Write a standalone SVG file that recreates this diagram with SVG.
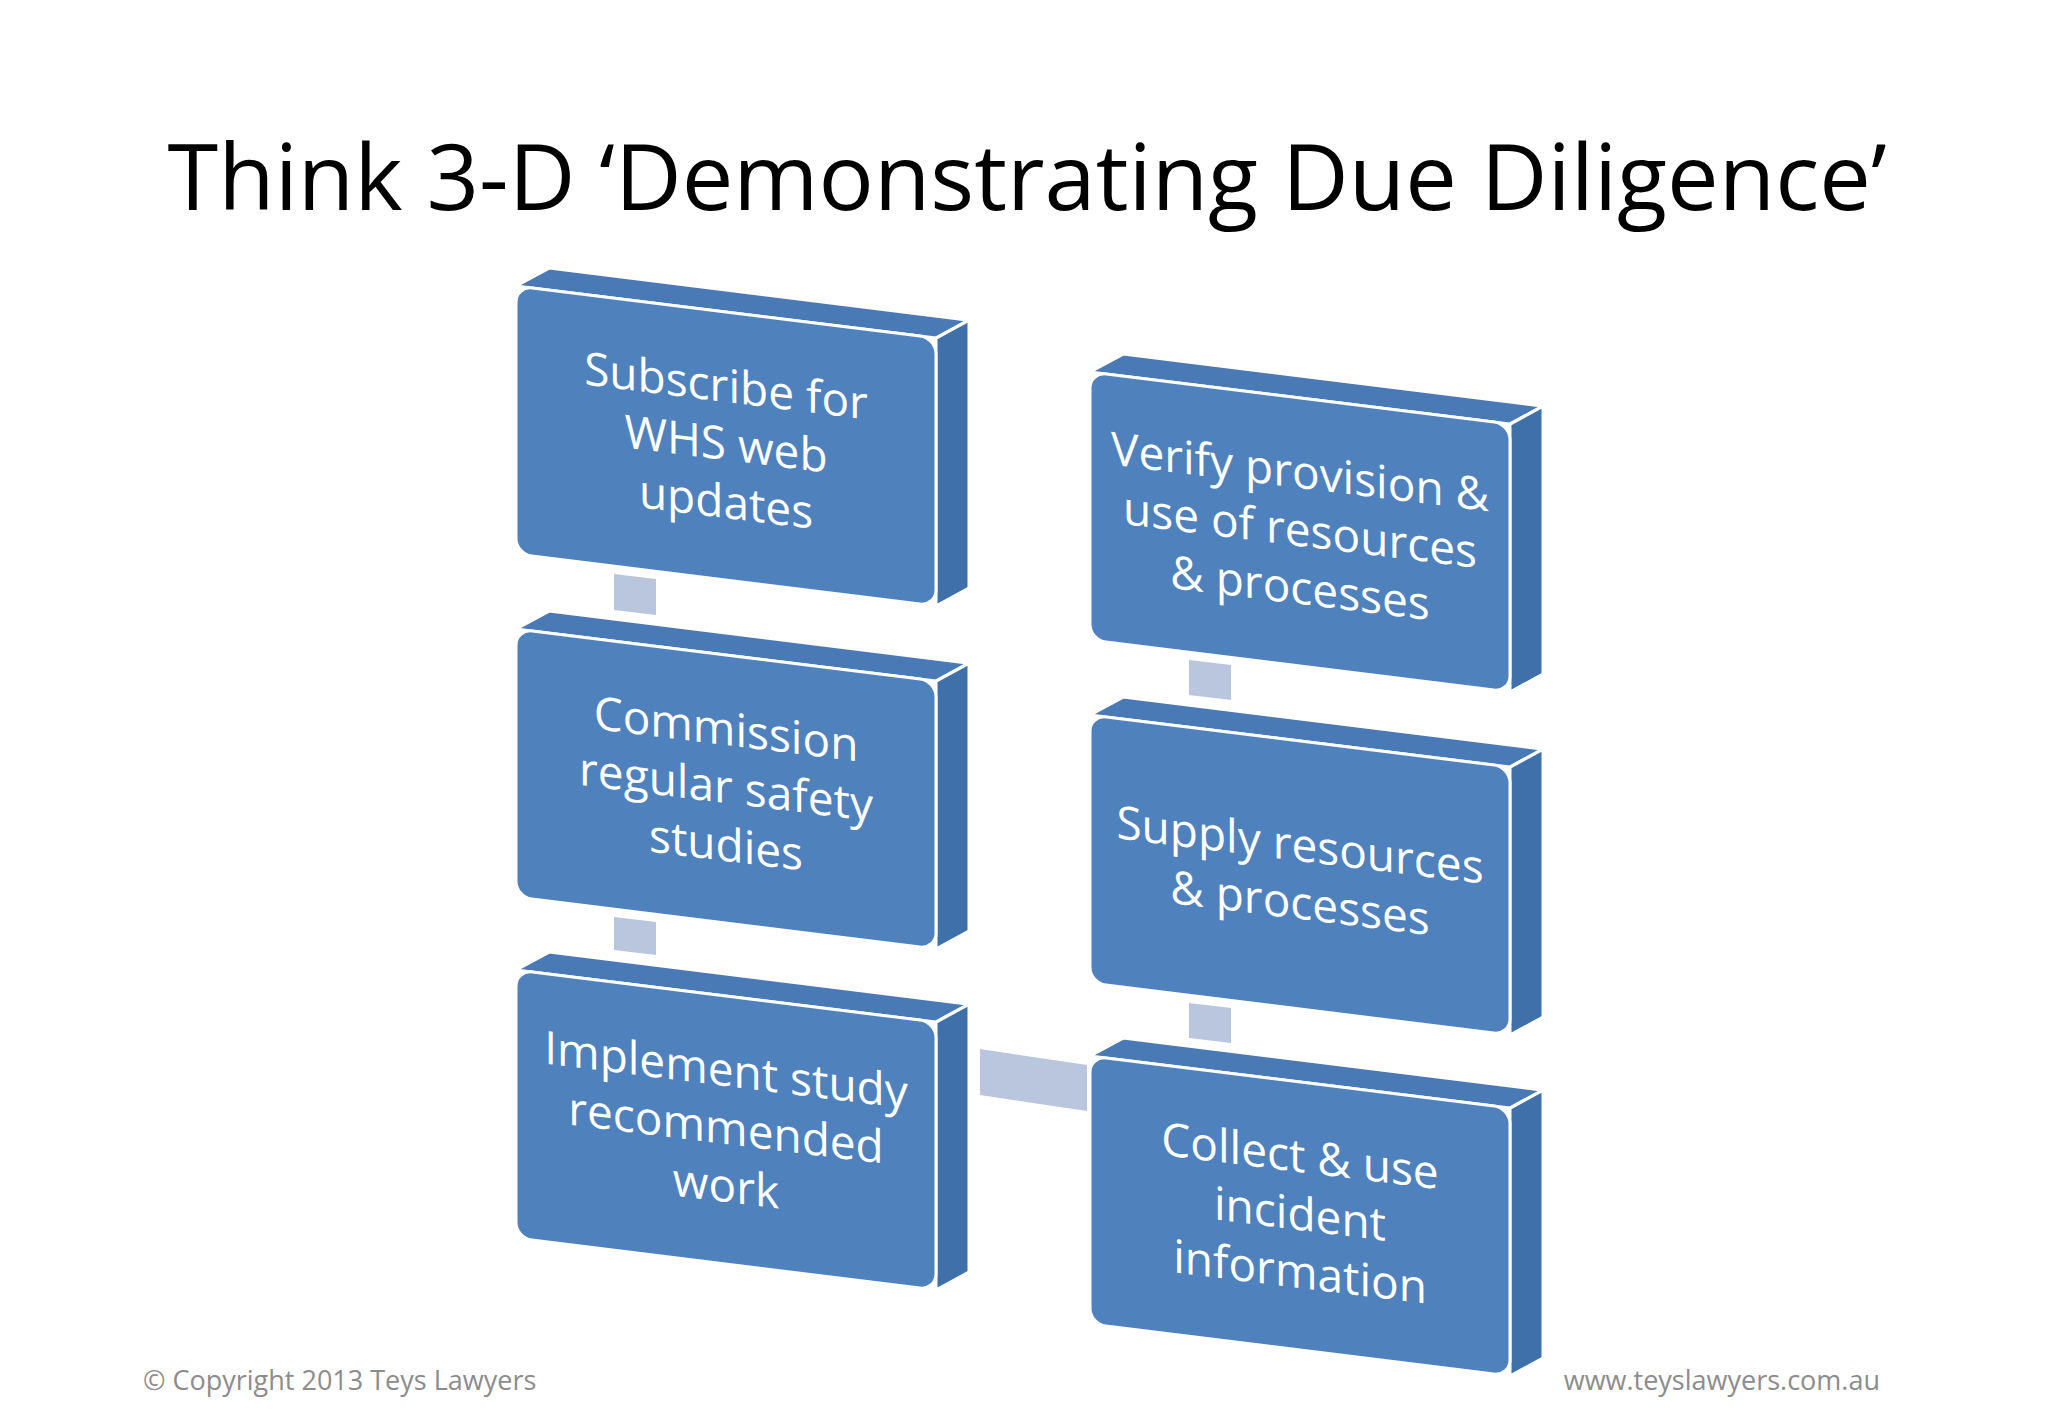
<svg xmlns="http://www.w3.org/2000/svg" width="2048" height="1418" viewBox="0 0 2048 1418">
<style>
.f{fill:#4f81bd;stroke:#fff;stroke-width:3}
.t{fill:#4a7ab6;stroke:#fff;stroke-width:3}
.s{fill:#4070aa;stroke:#fff;stroke-width:3}
.c{fill:#b9c6de}
.l{font-family:"Open Sans","Liberation Sans",sans-serif;font-size:46px;fill:#fff;text-anchor:middle}
</style>
<defs>
<g id="box">
<polygon class="t" points="0,0 33,-22 453,-22 420,0"/>
<polygon class="s" points="420,0 453,-22 453,246 420,268"/>
<rect class="f" x="0" y="0" width="420" height="268" rx="16"/>
</g>
</defs>
<rect width="2048" height="1418" fill="#fff"/>
<text x="1027" y="210" font-family="'Open Sans','Liberation Sans',sans-serif" font-size="92" text-anchor="middle" fill="#000">Think 3-D ‘Demonstrating Due Diligence’</text>
<g id="connectors">
<polygon class="c" points="614,574 656,579 656,615 614,610"/>
<polygon class="c" points="614,917 656,922 656,955 614,950"/>
<polygon class="c" points="1189,660 1231,665 1231,700 1189,695"/>
<polygon class="c" points="1189,1003 1231,1008 1231,1043 1189,1038"/>
<polygon class="c" points="980,1049 1087,1065 1087,1111 980,1095"/>
</g>
<g id="n1" transform="matrix(1,0.124,0,1,516,286)"><use href="#box"/><text class="l"><tspan x="210" y="90">Subscribe for</tspan><tspan x="210" y="148">WHS web</tspan><tspan x="210" y="206">updates</tspan></text></g>
<g id="n2" transform="matrix(1,0.124,0,1,516,629)"><use href="#box"/><text class="l"><tspan x="210" y="90">Commission</tspan><tspan x="210" y="148">regular safety</tspan><tspan x="210" y="206">studies</tspan></text></g>
<g id="n3" transform="matrix(1,0.124,0,1,516,970)"><use href="#box"/><text class="l"><tspan x="210" y="90">Implement study</tspan><tspan x="210" y="148">recommended</tspan><tspan x="210" y="206">work</tspan></text></g>
<g id="n4" transform="matrix(1,0.124,0,1,1090,372)"><use href="#box"/><text class="l"><tspan x="210" y="90">Verify provision &amp;</tspan><tspan x="210" y="148">use of resources</tspan><tspan x="210" y="206">&amp; processes</tspan></text></g>
<g id="n5" transform="matrix(1,0.124,0,1,1090,715)"><use href="#box"/><text class="l"><tspan x="210" y="120">Supply resources</tspan><tspan x="210" y="178">&amp; processes</tspan></text></g>
<g id="n6" transform="matrix(1,0.124,0,1,1090,1056)"><use href="#box"/><text class="l"><tspan x="210" y="90">Collect &amp; use</tspan><tspan x="210" y="148">incident</tspan><tspan x="210" y="206">information</tspan></text></g>
<text x="143" y="1390" font-family="'Open Sans','Liberation Sans',sans-serif" font-size="27" fill="#8c8c8c">© Copyright 2013 Teys Lawyers</text>
<text x="1880" y="1390" font-family="'Open Sans','Liberation Sans',sans-serif" font-size="27" fill="#8c8c8c" text-anchor="end">www.teyslawyers.com.au</text>
</svg>
